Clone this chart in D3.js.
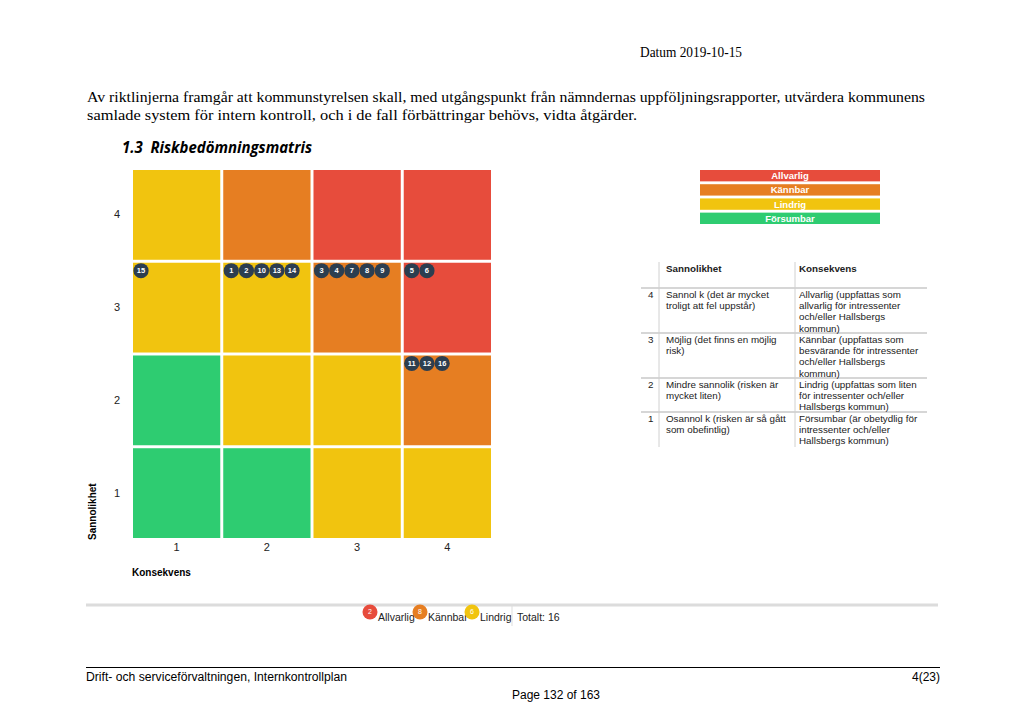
<!DOCTYPE html>
<html>
<head>
<meta charset="utf-8">
<script src="https://cdn.jsdelivr.net/npm/d3@7"></script>
<style>
  body { margin: 0; background: #fff; }
  svg { display: block; }
</style>
</head>
<body>
<div id="chart"></div>
<script>
var W = 1024, H = 726;

// axis categories
var konsekvens = [1, 2, 3, 4];
var sannolikhet = [4, 3, 2, 1];

// matrix level per cell, rows = sannolikhet 4..1, cols = konsekvens 1..4
var levelRows = [
  ["Lindrig", "Kännbar", "Allvarlig", "Allvarlig"],
  ["Lindrig", "Lindrig", "Kännbar", "Allvarlig"],
  ["Försumbar", "Lindrig", "Lindrig", "Kännbar"],
  ["Försumbar", "Försumbar", "Lindrig", "Lindrig"]
];

// risks: id, sannolikhet, konsekvens
var riskIds = [15, 1, 2, 10, 13, 14, 3, 4, 7, 8, 9, 5, 6, 11, 12, 16];
var riskS   = [3, 3, 3, 3, 3, 3, 3, 3, 3, 3, 3, 3, 3, 2, 2, 2];
var riskK   = [1, 2, 2, 2, 2, 2, 3, 3, 3, 3, 3, 4, 4, 4, 4, 4];

var levels = ["Allvarlig", "Kännbar", "Lindrig", "Försumbar"];
var levelColors = ["#e74c3c", "#e67e22", "#f1c40f", "#2ecc71"];

var tableNums = ["4", "3", "2", "1"];
var tableSann = [
  ["Sannol k (det är mycket", "troligt att fel uppstår)"],
  ["Möjlig (det finns en möjlig", "risk)"],
  ["Mindre sannolik (risken är", "mycket liten)"],
  ["Osannol k (risken är så gått", "som obefintlig)"]
];
var tableKons = [
  ["Allvarlig (uppfattas som", "allvarlig för intressenter", "och/eller Hallsbergs", "kommun)"],
  ["Kännbar (uppfattas som", "besvärande för intressenter", "och/eller Hallsbergs", "kommun)"],
  ["Lindrig (uppfattas som liten", "för intressenter och/eller", "Hallsbergs kommun)"],
  ["Försumbar (är obetydlig för", "intressenter och/eller", "Hallsbergs kommun)"]
];

var color = d3.scaleOrdinal().domain(levels).range(levelColors);

var svg = d3.select("#chart").append("svg")
    .attr("width", W).attr("height", H);

var sans = "'Liberation Sans', Arial, sans-serif";

// page header
svg.append("text").attr("x", 640).attr("y", 57)
    .style("font-family", "'Liberation Serif', serif").style("font-size", "14px")
    .attr("textLength", 102).attr("lengthAdjust", "spacingAndGlyphs")
    .text("Datum 2019-10-15");

var para = [
  "Av riktlinjerna framgår att kommunstyrelsen skall, med utgångspunkt från nämndernas uppföljningsrapporter, utvärdera kommunens",
  "samlade system för intern kontroll, och i de fall förbättringar behövs, vidta åtgärder."
];
var paraLen = [838, 550];
svg.selectAll("text.para").data(para).enter().append("text")
    .attr("class", "para")
    .attr("x", 87).attr("y", function(d, i) { return 102 + i * 18; })
    .style("font-family", "'Liberation Serif', serif").style("font-size", "15.5px")
    .attr("textLength", function(d, i) { return paraLen[i]; })
    .attr("lengthAdjust", "spacingAndGlyphs")
    .text(function(d) { return d; });

svg.append("text").attr("x", 122).attr("y", 153)
    .style("font-family", "'Open Sans', sans-serif").style("font-size", "16px")
    .style("font-weight", "bold").style("font-style", "italic")
    .style("white-space", "pre")
    .attr("textLength", 190).attr("lengthAdjust", "spacingAndGlyphs")
    .text("1.3  Riskbedömningsmatris");

// matrix
var x = d3.scaleBand().domain(konsekvens).range([133, 491]).paddingInner(0.033);
var y = d3.scaleBand().domain(sannolikhet).range([170, 538]).paddingInner(0.032);

var cells = [];
sannolikhet.forEach(function(s, ri) {
  konsekvens.forEach(function(k, ci) {
    cells.push({s: s, k: k, level: levelRows[ri][ci]});
  });
});

svg.selectAll("rect.cell").data(cells).enter().append("rect")
    .attr("class", "cell")
    .attr("x", function(d) { return x(d.k); })
    .attr("y", function(d) { return y(d.s); })
    .attr("width", x.bandwidth())
    .attr("height", y.bandwidth())
    .attr("fill", function(d) { return color(d.level); });

var yAxis = svg.append("g").attr("transform", "translate(133,0)")
    .call(d3.axisLeft(y).tickSize(0).tickPadding(13));
var xAxis = svg.append("g").attr("transform", "translate(0,539)")
    .call(d3.axisBottom(x).tickSize(0).tickPadding(4));
[xAxis, yAxis].forEach(function(a) {
  a.select(".domain").remove();
  a.selectAll("text").style("font-family", sans).style("font-size", "11px").attr("fill", "#222");
});

svg.append("text").attr("x", 132).attr("y", 576)
    .style("font-family", sans).style("font-size", "10px").style("font-weight", "bold")
    .text("Konsekvens");
svg.append("text")
    .attr("transform", "translate(96,540) rotate(-90)")
    .style("font-family", sans).style("font-size", "10px").style("font-weight", "bold")
    .text("Sannolikhet");

// risk markers
var risks = riskIds.map(function(id, i) { return {id: id, s: riskS[i], k: riskK[i]}; });
var slot = {};
risks.forEach(function(r) {
  var key = r.s + "-" + r.k;
  slot[key] = slot[key] || 0;
  r.i = slot[key]++;
});

var marks = svg.selectAll("g.risk").data(risks).enter().append("g")
    .attr("class", "risk")
    .attr("transform", function(d) {
      return "translate(" + (x(d.k) + 8 + d.i * 15.2) + "," + (y(d.s) + 8) + ")";
    });
marks.append("circle").attr("r", 7.6).attr("fill", "#2c3e50");
marks.append("text").attr("text-anchor", "middle").attr("dy", "0.35em")
    .style("font-family", sans).style("font-size", "7.5px").style("font-weight", "bold")
    .attr("fill", "#fff")
    .text(function(d) { return d.id; });

// level legend
var ly = d3.scaleBand().domain(levels).range([170, 224]).paddingInner(0.2);
var leg = svg.selectAll("g.leg").data(levels).enter().append("g").attr("class", "leg");
leg.append("rect").attr("x", 700).attr("width", 180)
    .attr("y", function(d) { return ly(d); }).attr("height", ly.bandwidth())
    .attr("fill", function(d) { return color(d); });
leg.append("text").attr("x", 790).attr("text-anchor", "middle")
    .attr("y", function(d) { return ly(d) + ly.bandwidth() / 2; }).attr("dy", "0.36em")
    .style("font-family", sans).style("font-size", "9.5px").style("font-weight", "bold")
    .attr("fill", "#fff")
    .text(function(d) { return d; });

// description table
var lineH = 11.2;
var rowTops = [288, 333, 378, 412];
var tBottom = 447;
var tf = svg.append("g").style("font-family", sans).style("font-size", "9.8px").attr("fill", "#222");
tf.append("text").attr("x", 666).attr("y", 272).style("font-weight", "bold").text("Sannolikhet");
tf.append("text").attr("x", 799).attr("y", 272).style("font-weight", "bold").text("Konsekvens");
tf.selectAll("line.h").data(rowTops).enter().append("line")
    .attr("x1", 641).attr("x2", 927)
    .attr("y1", function(d) { return d; }).attr("y2", function(d) { return d; })
    .attr("stroke", "#c8c8c8").attr("stroke-width", 1.5);
[659, 795].forEach(function(vx) {
  tf.append("line").attr("x1", vx).attr("x2", vx).attr("y1", 262).attr("y2", tBottom)
      .attr("stroke", "#d0d0d0").attr("stroke-width", 1);
});
tableNums.forEach(function(n, i) {
  var top = rowTops[i] + 10;
  tf.append("text").attr("x", 648).attr("y", top).text(n);
  tableSann[i].forEach(function(t, j) {
    tf.append("text").attr("x", 666).attr("y", top + j * lineH).text(t);
  });
  tableKons[i].forEach(function(t, j) {
    tf.append("text").attr("x", 799).attr("y", top + j * lineH).text(t);
  });
});

// summary bar
svg.append("line").attr("x1", 86).attr("x2", 938).attr("y1", 605).attr("y2", 605)
    .attr("stroke", "#dcdcdc").attr("stroke-width", 3);
var counts = levels.slice(0, 3).map(function(l) {
  return {level: l, n: risks.filter(function(r) {
    return levelRows[sannolikhet.indexOf(r.s)][konsekvens.indexOf(r.k)] === l;
  }).length};
});
var sumX = [370, 420, 472];
var sg = svg.selectAll("g.sum").data(counts).enter().append("g").attr("class", "sum")
    .attr("transform", function(d, i) { return "translate(" + sumX[i] + ",612)"; });
sg.append("circle").attr("r", 7.5).attr("fill", function(d) { return color(d.level); });
sg.append("text").attr("text-anchor", "middle").attr("dy", "0.35em")
    .style("font-family", sans).style("font-size", "7px").attr("fill", "#fff")
    .text(function(d) { return d.n; });
sg.append("text").attr("x", 8).attr("y", 9)
    .style("font-family", sans).style("font-size", "10.5px").attr("fill", "#222")
    .text(function(d) { return d.level; });
svg.append("line").attr("x1", 512).attr("x2", 512).attr("y1", 606).attr("y2", 626)
    .attr("stroke", "#ddd");
svg.append("text").attr("x", 517).attr("y", 621)
    .style("font-family", sans).style("font-size", "10.5px").attr("fill", "#222")
    .text("Totalt: " + risks.length);

// footer
svg.append("line").attr("x1", 86).attr("x2", 940).attr("y1", 667.5).attr("y2", 667.5)
    .attr("stroke", "#000").attr("stroke-width", 1);
var ff = svg.append("g").style("font-family", sans).style("font-size", "12px").attr("fill", "#000");
ff.append("text").attr("x", 86).attr("y", 681)
    .attr("textLength", 261).attr("lengthAdjust", "spacingAndGlyphs")
    .text("Drift- och serviceförvaltningen, Internkontrollplan");
ff.append("text").attr("x", 940).attr("y", 681).attr("text-anchor", "end").text("4(23)");
ff.append("text").attr("x", 556).attr("y", 699).attr("text-anchor", "middle").text("Page 132 of 163");
</script>
</body>
</html>
